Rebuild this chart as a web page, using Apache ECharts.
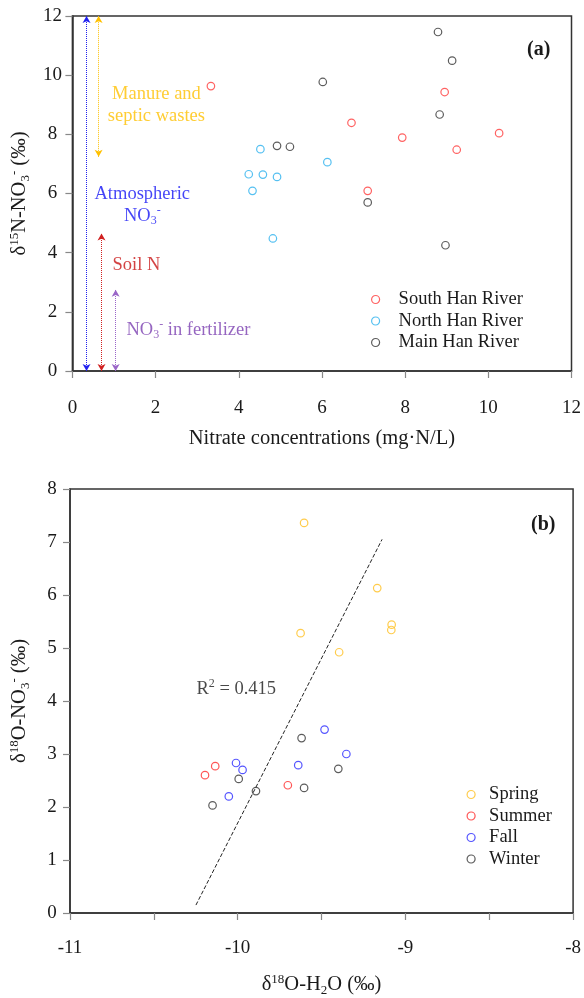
<!DOCTYPE html>
<html>
<head>
<meta charset="utf-8">
<script src="https://cdn.jsdelivr.net/npm/echarts@6/dist/echarts.min.js"></script>
<style>
  html, body { margin: 0; padding: 0; background: #fff; }
  #chart { width: 584px; height: 998px; }
</style>
</head>
<body>
<div id="chart"></div>
<script>
// (a) nitrate concentration vs d15N, [mg N/L, permil]
const southHan = [[3.33, 9.63], [6.71, 8.39], [7.93, 7.89], [8.95, 9.43], [9.24, 7.48], [10.26, 8.04], [7.10, 6.09]];
const northHan = [[4.24, 6.65], [4.52, 7.50], [4.58, 6.64], [4.92, 6.56], [4.33, 6.09], [4.82, 4.48], [6.13, 7.06]];
const mainHan = [[4.92, 7.61], [5.23, 7.58], [6.02, 9.77], [8.79, 11.46], [9.13, 10.49], [8.83, 8.67], [7.10, 5.70], [8.97, 4.25]];

// source ranges of d15N: [x, from, to]
const sourceRanges = [[0.34, 0, 12], [0.63, 7.24, 12], [0.70, 0, 4.65], [1.04, 0, 2.75]];
const sourceNames = ['Manure and\nseptic wastes', 'Atmospheric\nNO{sub|3}{sup|-}', 'Soil N', 'NO{sub|3}{sup|-} in fertilizer'];
const sourceNamePos = [[2.02, 9.0], [1.68, 5.62], [1.54, 3.58], [2.79, 1.38]];

// (b) d18O-H2O vs d18O-NO3 by season
const spring = [[-9.604, 7.36], [-9.168, 6.13], [-9.082, 5.44], [-9.084, 5.34], [-9.625, 5.28], [-9.395, 4.92]];
const summer = [[-10.195, 2.60], [-10.134, 2.77], [-9.701, 2.41]];
const fall = [[-10.010, 2.83], [-9.971, 2.70], [-10.053, 2.20], [-9.482, 3.46], [-9.352, 3.00], [-9.639, 2.79]];
const winter = [[-10.150, 2.03], [-9.994, 2.53], [-9.891, 2.30], [-9.619, 3.30], [-9.400, 2.72], [-9.604, 2.36]];
const fitLine = [[-10.249, 0.15], [-9.139, 7.05]];
const r2Text = 'R{sup|2} = 0.415';
const r2Pos = [-10.249, 4.22];

const FONT = 'Liberation Serif';
const TXT = '#1a1a1a';
// super/subscript styles for rich text
function richFor(color, size) {
  return {
    sup: { fontSize: size, fontFamily: FONT, verticalAlign: 'top', lineHeight: size, color },
    sub: { fontSize: size, fontFamily: FONT, verticalAlign: 'bottom', lineHeight: size, color }
  };
}
const sourceColors = ['#FFC000', '#1515F5', '#C81414', '#7A3FB0'];
const arrowColors = ['#2020F0', '#FFC000', '#D02020', '#9A66C8'];

const chart = echarts.init(document.getElementById('chart'));

function pointSeries(name, data, color, axis) {
  return {
    name, type: 'scatter', xAxisIndex: axis, yAxisIndex: axis,
    data, symbol: 'circle', symbolSize: 7.5,
    itemStyle: { color: 'rgba(0,0,0,0)', borderColor: color, borderWidth: 1.2 },
    emphasis: { disabled: true }
  };
}

function makeAxis(grid, min, max, interval, name, nameGap, labelMargin, extra) {
  return Object.assign({
    type: 'value', gridIndex: grid, min, max, interval,
    name, nameLocation: 'middle', nameGap,
    nameTextStyle: { fontFamily: FONT, fontSize: 20.5, color: TXT, lineHeight: 24, rich: richFor(TXT, 13) },
    axisLine: { show: true, onZero: false, lineStyle: { color: '#333', width: 1.5 } },
    axisTick: { show: true, inside: false, length: 7, lineStyle: { color: '#888', width: 1.2 } },
    axisLabel: { fontFamily: FONT, fontSize: 19, color: TXT, margin: labelMargin },
    splitLine: { show: false }
  }, extra || {});
}

const legendText = { fontFamily: FONT, fontSize: 18.5, color: TXT };

const option = {
  animation: false,
  backgroundColor: '#fff',
  title: [
    { text: '(a)', left: 527, top: 40, padding: 0, textStyle: { fontFamily: FONT, fontSize: 20, fontWeight: 'bold', color: TXT } },
    { text: '(b)', left: 531, top: 515, padding: 0, textStyle: { fontFamily: FONT, fontSize: 20, fontWeight: 'bold', color: TXT } }
  ],
  grid: [
    { left: 70, top: 16, width: 505, height: 355, show: true, borderColor: '#333', borderWidth: 1.5 },
    { left: 65, top: 489, width: 514, height: 427, show: true, borderColor: '#333', borderWidth: 1.5 }
  ],
  legend: [
    {
      data: ['South Han River', 'North Han River', 'Main Han River'],
      orient: 'vertical', left: 366, top: 285, itemWidth: 36, itemHeight: 8, itemGap: 2.5,
      selectedMode: false,
      itemStyle: { borderWidth: 1.2 },
      textStyle: legendText
    },
    {
      data: ['Spring', 'Summer', 'Fall', 'Winter'],
      orient: 'vertical', left: 461.5, top: 780, itemWidth: 26, itemHeight: 8, itemGap: 2.5,
      selectedMode: false,
      itemStyle: { borderWidth: 1.2 },
      textStyle: legendText
    }
  ],
  xAxis: [
    makeAxis(0, 0, 12, 2, 'Nitrate concentrations (mg·N/L)', 56, 28),
    makeAxis(1, -11, -8, 0.5, 'δ{sup|18}O-H{sub|2}O (‰)', 60, 26, {
      axisLabel: {
        fontFamily: FONT, fontSize: 19, color: TXT, margin: 26,
        formatter: v => (Number.isInteger(v) ? String(v) : '')
      }
    })
  ],
  yAxis: [
    makeAxis(0, 0, 12, 2, 'δ{sup|15}N-NO{sub|3}{sup|-} (‰)', 38, 20, {
      axisLabel: { fontFamily: FONT, fontSize: 19, color: TXT, margin: 20, align: 'center' }
    }),
    makeAxis(1, 0, 8, 1, 'δ{sup|18}O-NO{sub|3}{sup|-} (‰)', 38, 18, {
      axisLabel: { fontFamily: FONT, fontSize: 19, color: TXT, margin: 18, align: 'center' }
    })
  ],
  series: [
    pointSeries('South Han River', southHan, '#FF3B3B', 0),
    pointSeries('North Han River', northHan, '#2AB0EE', 0),
    pointSeries('Main Han River', mainHan, '#333333', 0),
    {
      // source ranges and their labels
      type: 'scatter', xAxisIndex: 0, yAxisIndex: 0, silent: true,
      symbolSize: 1, itemStyle: { color: 'rgba(0,0,0,0)' },
      data: sourceNamePos.map((p, i) => ({
        value: p,
        label: {
          show: true, position: 'inside', formatter: sourceNames[i],
          fontFamily: FONT, fontSize: 18.5, lineHeight: 22, align: 'center',
          color: sourceColors[i], rich: richFor(sourceColors[i], 12)
        }
      })),
      markLine: {
        silent: true, symbol: ['arrow', 'arrow'], symbolSize: [6, 7],
        label: { show: false },
        data: sourceRanges.map((r, i) => [
          { coord: [r[0], r[1]], lineStyle: { color: arrowColors[i], type: 'dotted', width: 1 } },
          { coord: [r[0], r[2]] }
        ])
      }
    },
    pointSeries('Spring', spring, '#FFBF1F', 1),
    pointSeries('Summer', summer, '#FF2B2B', 1),
    pointSeries('Fall', fall, '#2B2BFF', 1),
    pointSeries('Winter', winter, '#333333', 1),
    {
      // regression line and R2
      type: 'scatter', xAxisIndex: 1, yAxisIndex: 1, silent: true,
      symbolSize: 1, itemStyle: { color: 'rgba(0,0,0,0)' },
      data: [{
        value: r2Pos,
        label: {
          show: true, position: 'right', distance: 0, formatter: r2Text,
          fontFamily: FONT, fontSize: 18.5, lineHeight: 22, color: TXT, rich: richFor(TXT, 12)
        }
      }],
      markLine: {
        silent: true, symbol: 'none',
        label: { show: false },
        lineStyle: { color: '#222', type: 'dashed', width: 1 },
        data: [[{ coord: fitLine[0] }, { coord: fitLine[1] }]]
      }
    }
  ]
};

chart.setOption(option);
</script>
</body>
</html>
